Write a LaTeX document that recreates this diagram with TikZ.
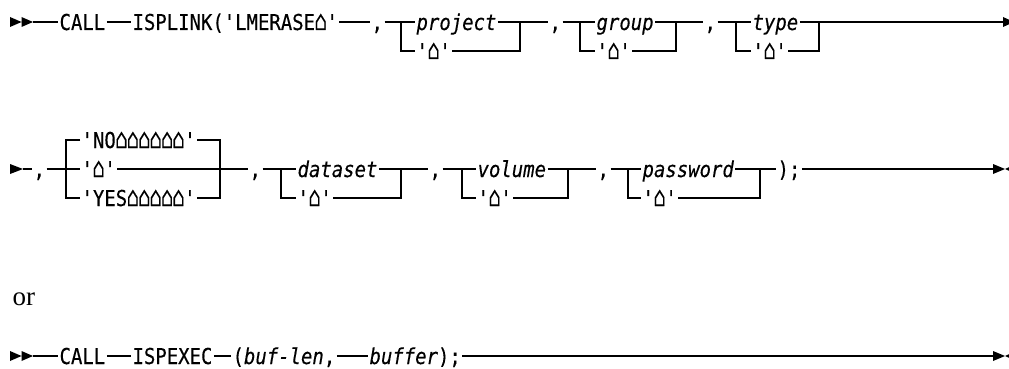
\documentclass[tikz,border=0pt]{standalone}
\usepackage{fontspec}
\newfontfamily\ibm[FakeStretch=0.865,FakeBold=0.3]{DejaVu Sans Mono}
\newfontfamily\orfont{Liberation Serif}
\newcommand\blk{\makebox[0.521em][c]{\scalebox{1.1}[1.25]{⌂}}}
\begin{document}
\begin{tikzpicture}[x=1pt,y=-1pt,line width=1.15pt,
  kw/.style={font=\ibm\fontsize{21.9}{24}\selectfont,inner xsep=1pt,inner ysep=0pt,
             text height=16pt,text depth=0pt,anchor=west},
  var/.style={kw,font=\ibm\itshape\fontsize{21.9}{24}\selectfont},
  tri/.style={fill=black,draw=none}]
\clip (0,0) rectangle (1009,369);
\fill[white] (0,0) rectangle (1009,369);

% ---------------- Row 1 ----------------
\fill[tri] (10,17)--(10,27)--(21.5,22)--cycle (21.5,17)--(21.5,27)--(33,22)--cycle;
\coordinate (s1) at (33,22);
\node[kw] (call1) at (58,22) {CALL};
\node[kw] (isplink) at (131,22) {ISPLINK('LMERASE\blk'};
\node[kw] (c1) at (370,22) {,};
\coordinate (pL) at (401,22); \coordinate (pR) at (520,22);
\node[var] (proj) at (415,22) {project};
\node[kw] (projb) at (415,51) {'\blk'};
\node[kw] (c2) at (548,22) {,};
\coordinate (gL) at (580,22); \coordinate (gR) at (676,22);
\node[var] (grp) at (595,22) {group};
\node[kw] (grpb) at (595,51) {'\blk'};
\node[kw] (c3) at (703,22) {,};
\coordinate (tL) at (736,22); \coordinate (tR) at (819,22);
\node[var] (typ) at (751,22) {type};
\node[kw] (typb) at (751,51) {'\blk'};
\coordinate (e1) at (1003,22);

\draw (s1) -- (call1.west);
\draw (call1.east) -- (isplink.west);
\draw (isplink.east) -- (c1.west);
\draw (c1.east) -- (pL) -- (proj.west);
\draw (pL) |- (projb.west);
\draw (proj.east) -- (pR) -- (c2.west);
\draw (projb.east) -| (pR);
\draw (c2.east) -- (gL) -- (grp.west);
\draw (gL) |- (grpb.west);
\draw (grp.east) -- (gR) -- (c3.west);
\draw (grpb.east) -| (gR);
\draw (c3.east) -- (tL) -- (typ.west);
\draw (tL) |- (typb.west);
\draw (typ.east) -- (tR) -- (e1);
\draw (typb.east) -| (tR);
\fill[tri] (1003,17)--(1003,27)--(1014,22)--cycle;

% ---------------- Row 2 ----------------
\fill[tri] (10,164)--(10,174)--(23,169)--cycle;
\coordinate (s2) at (23,169);
\node[kw] (c4) at (32,169) {,};
\coordinate (chL) at (66,169); \coordinate (chR) at (220,169);
\node[kw] (no) at (80,140) {'NO\blk\blk\blk\blk\blk\blk'};
\node[kw] (blank) at (80,169) {'\blk'};
\node[kw] (yes) at (80,198) {'YES\blk\blk\blk\blk\blk'};
\node[kw] (c5) at (248,169) {,};
\coordinate (dL) at (281,169); \coordinate (dR) at (401,169);
\node[var] (dset) at (296,169) {dataset};
\node[kw] (dsetb) at (296,198) {'\blk'};
\node[kw] (c6) at (428,169) {,};
\coordinate (vL) at (462,169); \coordinate (vR) at (568,169);
\node[var] (vol) at (476,169) {volume};
\node[kw] (volb) at (476,198) {'\blk'};
\node[kw] (c7) at (596,169) {,};
\coordinate (wL) at (628,169); \coordinate (wR) at (760,169);
\node[var] (pwd) at (641,169) {password};
\node[kw] (pwdb) at (641,198) {'\blk'};
\node[kw] (cls) at (776,169) {);};
\coordinate (e2) at (993,169);

\draw (s2) -- (c4.west);
\draw (c4.east) -- (blank.west);
\draw (no.west) -| (chL) |- (yes.west);
\draw (blank.east) -- (c5.west);
\draw (no.east) -| (chR) |- (yes.east);
\draw (c5.east) -- (dL) -- (dset.west);
\draw (dL) |- (dsetb.west);
\draw (dset.east) -- (dR) -- (c6.west);
\draw (dsetb.east) -| (dR);
\draw (c6.east) -- (vL) -- (vol.west);
\draw (vL) |- (volb.west);
\draw (vol.east) -- (vR) -- (c7.west);
\draw (volb.east) -| (vR);
\draw (c7.east) -- (wL) -- (pwd.west);
\draw (wL) |- (pwdb.west);
\draw (pwd.east) -- (wR) -- (cls.west);
\draw (pwdb.east) -| (wR);
\draw (cls.east) -- (e2);
\fill[tri] (993,164)--(993,174)--(1005,169)--cycle (1016,164)--(1016,174)--(1005,169)--cycle;

% ---------------- "or" ----------------
\node[font=\orfont\fontsize{27}{30}\selectfont,anchor=base west,inner sep=0pt] (or) at (12,305) {or};

% ---------------- Row 3 ----------------
\fill[tri] (10,351)--(10,361)--(21.5,356)--cycle (21.5,351)--(21.5,361)--(33,356)--cycle;
\coordinate (s3) at (33,356);
\node[kw] (call3) at (58,356) {CALL};
\node[kw] (ispexec) at (131,356) {ISPEXEC};
\node[kw] (buflen) at (231,356) {(\textit{buf-len},};
\node[kw] (buf) at (368,356) {\textit{buffer});};
\coordinate (e3) at (993,356);
\draw (s3) -- (call3.west);
\draw (call3.east) -- (ispexec.west);
\draw (ispexec.east) -- (buflen.west);
\draw (buflen.east) -- (buf.west);
\draw (buf.east) -- (e3);
\fill[tri] (993,351)--(993,361)--(1005,356)--cycle (1016,351)--(1016,361)--(1005,356)--cycle;
\end{tikzpicture}
\end{document}
